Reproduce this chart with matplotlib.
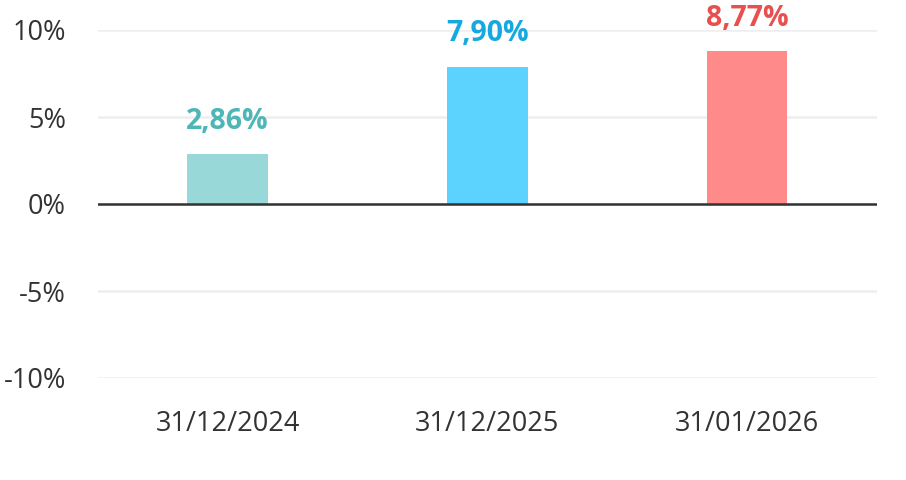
import numpy as np
import matplotlib.pyplot as plt

# data
dates = ["31/12/2024", "31/12/2025", "31/01/2026"]
values = [2.86, 7.90, 8.77]
bar_colors = ["#99D8D8", "#5CD2FF", "#FF8A8A"]
label_colors = ["#4DB6B6", "#16A8E0", "#E8504F"]
yticks = [-10, -5, 0, 5, 10]

plt.rcParams["font.family"] = ["Open Sans", "DejaVu Sans"]

fig = plt.figure(figsize=(9.06, 4.8), dpi=100)
ax = fig.add_axes([0.108, 0.2125, 0.86, 0.725])

x = np.arange(len(dates))
ax.bar(x, values, width=0.31, color=bar_colors, zorder=2)

# value labels above the bars
for xi, v, c in zip(x, values, label_colors):
    label = f"{v:.2f}%".replace(".", ",")
    ax.annotate(label, (xi, v), xytext=(0, 13), textcoords="offset points",
                ha="center", va="bottom", fontsize=20.5, fontweight="bold",
                color=c, annotation_clip=False)

ax.set_xlim(-0.5, len(dates) - 0.5)
ax.set_ylim(-10, 10)
ax.set_yticks(yticks)
ax.set_yticklabels([f"{t}%" for t in yticks])
ax.set_xticks(x)
ax.set_xticklabels(dates)

ax.grid(axis="y", color="#EEEEEE", linewidth=1.8, zorder=0)
ax.axhline(0, color="#333333", linewidth=1.8, zorder=3)

for s in ax.spines.values():
    s.set_visible(False)
ax.tick_params(axis="both", length=0, labelsize=19.5, colors="#333333")
ax.tick_params(axis="y", pad=23)
ax.tick_params(axis="x", pad=23)

plt.savefig("out.png", dpi=100)
